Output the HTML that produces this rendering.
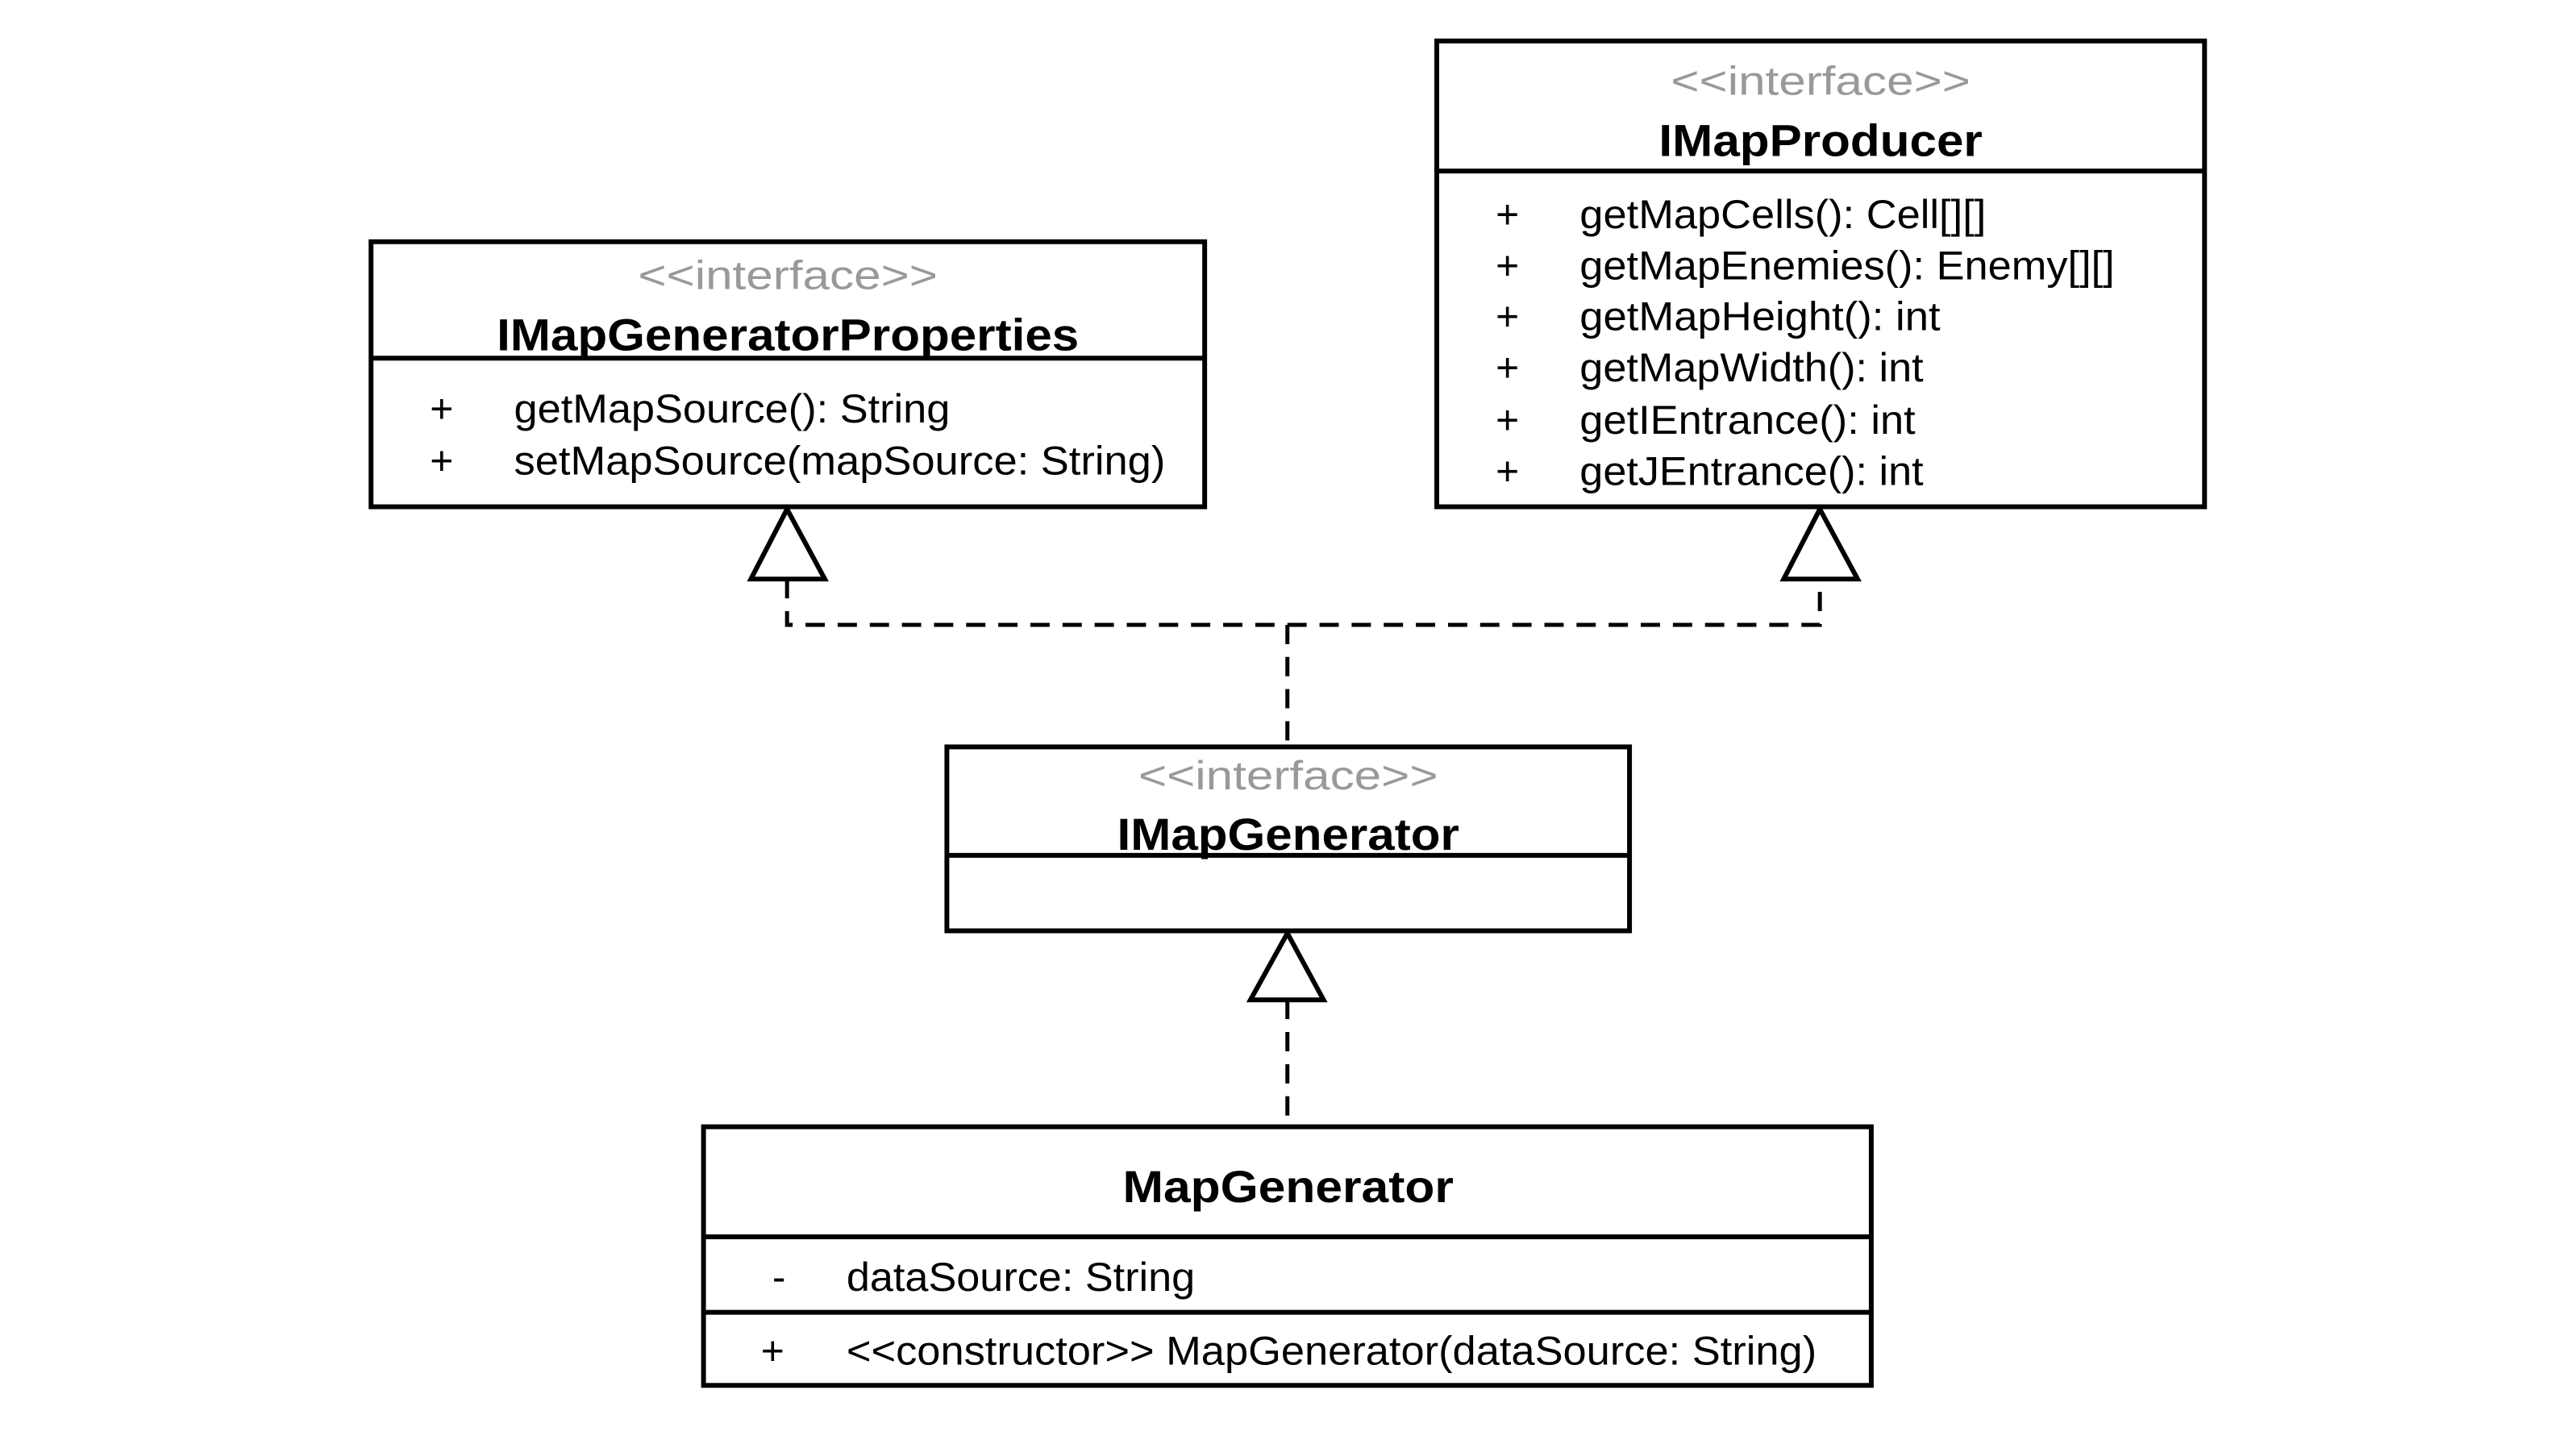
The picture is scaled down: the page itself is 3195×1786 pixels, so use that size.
<!DOCTYPE html>
<html><head><meta charset="utf-8"><style>html,body{margin:0;padding:0;background:#fff}svg{display:block}</style></head>
<body>
<svg width="3195" height="1786" viewBox="0 0 3195 1786" xmlns="http://www.w3.org/2000/svg" font-family="Liberation Sans, Arial, sans-serif">
<rect width="3195" height="1786" fill="#fff"/>
<g transform="translate(-1,-2) scale(0.9961)">
<g fill="none" stroke="#000" stroke-width="6">
<rect x="463" y="303" width="1038" height="330"/><line x1="463" y1="448" x2="1501" y2="448"/>
<rect x="1790" y="53" width="956" height="580"/><line x1="1790" y1="215" x2="2746" y2="215"/>
<rect x="1180" y="932" width="850" height="229"/><line x1="1180" y1="1067" x2="2030" y2="1067"/>
<rect x="877" y="1405" width="1454" height="322"/><line x1="877" y1="1542" x2="2331" y2="1542"/><line x1="877" y1="1636" x2="2331" y2="1636"/>
</g>
<g fill="none" stroke="#000" stroke-width="5" stroke-dasharray="24 16">
<polyline points="981,723 981,780 2267,780 2267,723"/>
<line x1="1604" y1="780" x2="1604" y2="932"/>
<line x1="1604" y1="1247" x2="1604" y2="1405"/>
</g>
<g fill="#fff" stroke="#000" stroke-width="6" stroke-linejoin="miter">
<polygon points="981,636 936,723 1028,723"/>
<polygon points="2267,636 2222,723 2314,723"/>
<polygon points="1604,1164 1558,1247 1649,1247"/>
</g>
<g transform="translate(0,3)">
<g font-size="50" fill="#999" text-anchor="middle" dominant-baseline="central">
<text x="982" y="342" textLength="373" lengthAdjust="spacingAndGlyphs">&lt;&lt;interface&gt;&gt;</text>
<text x="2268" y="100" textLength="373" lengthAdjust="spacingAndGlyphs">&lt;&lt;interface&gt;&gt;</text>
<text x="1605" y="965" textLength="373" lengthAdjust="spacingAndGlyphs">&lt;&lt;interface&gt;&gt;</text>
</g>
<g font-size="56" font-weight="bold" fill="#000" text-anchor="middle" dominant-baseline="central">
<text x="982" y="416" textLength="725" lengthAdjust="spacingAndGlyphs">IMapGeneratorProperties</text>
<text x="2268" y="174" textLength="403" lengthAdjust="spacingAndGlyphs">IMapProducer</text>
<text x="1605" y="1038" textLength="426" lengthAdjust="spacingAndGlyphs">IMapGenerator</text>
<text x="1605" y="1477" textLength="412" lengthAdjust="spacingAndGlyphs">MapGenerator</text>
</g>
<g font-size="50" fill="#000" dominant-baseline="central">
<text x="551" y="508" text-anchor="middle">+</text>
<text x="641" y="508" textLength="543" lengthAdjust="spacingAndGlyphs">getMapSource(): String</text>
<text x="551" y="573" text-anchor="middle">+</text>
<text x="641" y="573" textLength="811" lengthAdjust="spacingAndGlyphs">setMapSource(mapSource: String)</text>

<text x="1878" y="266" text-anchor="middle">+</text>
<text x="1968" y="266" textLength="506" lengthAdjust="spacingAndGlyphs">getMapCells(): Cell[][]</text>
<text x="1878" y="330" text-anchor="middle">+</text>
<text x="1968" y="330" textLength="666" lengthAdjust="spacingAndGlyphs">getMapEnemies(): Enemy[][]</text>
<text x="1878" y="393" text-anchor="middle">+</text>
<text x="1968" y="393" textLength="449" lengthAdjust="spacingAndGlyphs">getMapHeight(): int</text>
<text x="1878" y="457" text-anchor="middle">+</text>
<text x="1968" y="457" textLength="428" lengthAdjust="spacingAndGlyphs">getMapWidth(): int</text>
<text x="1878" y="522" text-anchor="middle">+</text>
<text x="1968" y="522" textLength="418" lengthAdjust="spacingAndGlyphs">getIEntrance(): int</text>
<text x="1878" y="586" text-anchor="middle">+</text>
<text x="1968" y="586" textLength="428" lengthAdjust="spacingAndGlyphs">getJEntrance(): int</text>

<text x="971" y="1589" text-anchor="middle">-</text>
<text x="1055" y="1589" textLength="434" lengthAdjust="spacingAndGlyphs">dataSource: String</text>
<text x="963" y="1681" text-anchor="middle">+</text>
<text x="1055" y="1681" textLength="1208" lengthAdjust="spacingAndGlyphs">&lt;&lt;constructor&gt;&gt; MapGenerator(dataSource: String)</text>
</g>
</g>
</g>
</svg>
</body></html>
